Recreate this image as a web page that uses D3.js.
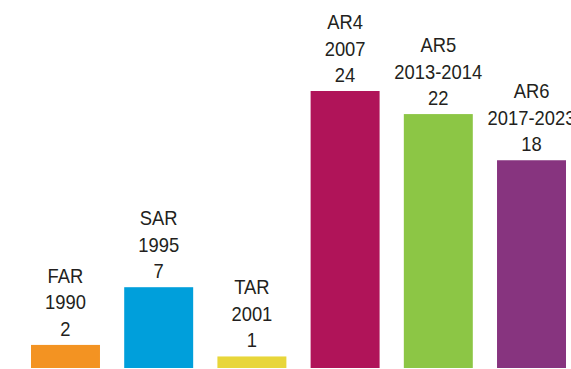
<!DOCTYPE html>
<html>
<head>
<meta charset="utf-8">
<script src="https://cdn.jsdelivr.net/npm/d3@7"></script>
<style>
  html, body { margin: 0; padding: 0; background: #fff; overflow: hidden; }
  svg { display: block; }
  text { font-family: "Liberation Sans", Arial, sans-serif; font-size: 20px; fill: #231f20; }
</style>
</head>
<body>
<svg id="chart" width="571" height="369"></svg>
<script>
// IPCC assessment reports: name, years and value
const reports = ["FAR", "SAR", "TAR", "AR4", "AR5", "AR6"];
const years = ["1990", "1995", "2001", "2007", "2013-2014", "2017-2023"];
const values = [2, 7, 1, 24, 22, 18];
const colors = ["#f39322", "#009fdb", "#e8d63a", "#b01459", "#8cc645", "#87347f"];

const svg = d3.select("#chart");

const x = d3.scaleBand()
  .domain(reports)
  .range([31, 566])
  .paddingInner(0.26)
  .paddingOuter(0);

const y = d3.scaleLinear()
  .domain([0, 24])
  .range([368, 91]);

const data = reports.map((r, i) => ({ name: r, year: years[i], value: values[i], color: colors[i] }));

svg.selectAll("rect.bar")
  .data(data)
  .join("rect")
  .attr("class", "bar")
  .attr("x", d => x(d.name))
  .attr("width", x.bandwidth())
  .attr("y", d => y(d.value))
  .attr("height", d => y(0) - y(d.value))
  .attr("fill", d => d.color);

// Three-line label above each bar: report, years, value (slightly condensed)
const lineGap = 26.5;
const labels = svg.selectAll("g.label")
  .data(data)
  .join("g")
  .attr("class", "label")
  .attr("transform", d => `translate(${x(d.name) + x.bandwidth() / 2},${y(d.value) - 9}) scale(0.92,1)`);

labels.each(function(d) {
  const g = d3.select(this);
  [d.name, d.year, String(d.value)].forEach((t, i) => {
    g.append("text")
      .attr("text-anchor", "middle")
      .attr("y", -(2 - i) * lineGap)
      .text(t);
  });
});
</script>
</body>
</html>
